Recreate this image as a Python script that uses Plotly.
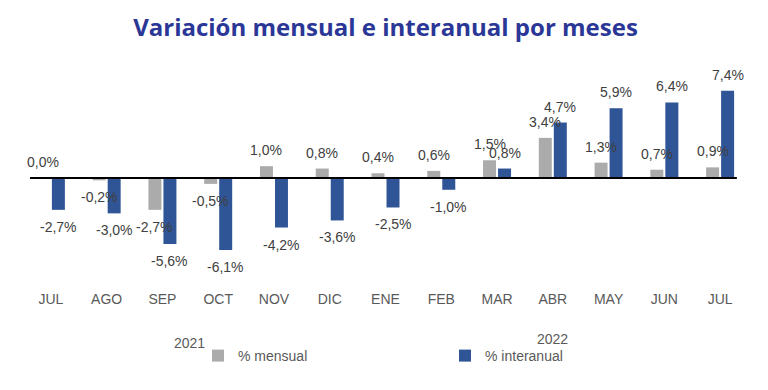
import plotly.graph_objects as go

# ---- data ----
meses = ["JUL", "AGO", "SEP", "OCT", "NOV", "DIC", "ENE", "FEB", "MAR", "ABR", "MAY", "JUN", "JUL"]
mensual = [0.0, -0.2, -2.7, -0.5, 1.0, 0.8, 0.4, 0.6, 1.5, 3.4, 1.3, 0.7, 0.9]
interanual = [-2.7, -3.0, -5.6, -6.1, -4.2, -3.6, -2.5, -1.0, 0.8, 4.7, 5.9, 6.4, 7.4]
anios = ["2021", "2022"]

x = list(range(len(meses)))

GRAY = "#ABABAB"
BLUE = "#2F5597"
LABEL = "#404040"
FONT = "Arial, Liberation Sans, sans-serif"
BARGAP = 0.462
GROUPGAP = 0.134
slot = (1 - BARGAP) / 2
offs = slot / 2

fig = go.Figure()
fig.add_bar(x=x, y=mensual, name="% mensual", marker_color=GRAY, marker_line_width=0)
fig.add_bar(x=x, y=interanual, name="% interanual", marker_color=BLUE, marker_line_width=0)

annotations = []
for series, sh in ((mensual, -offs), (interanual, offs)):
    for i, v in zip(x, series):
        annotations.append(dict(
            x=i + sh, y=v, xref="x", yref="y",
            text=f"{v:.1f}%".replace(".", ","),
            showarrow=False, yanchor="middle",
            yshift=16 if v >= 0 else -17,
            font=dict(family=FONT, size=14, color=LABEL),
        ))

for txt, px, ys in zip(anios, (0.229, 0.731), (0, 4)):
    annotations.append(dict(
        x=px, y=-0.236, xref="paper", yref="paper", text=txt, showarrow=False,
        xanchor="center", yanchor="middle", yshift=ys,
        font=dict(family=FONT, size=14, color="#595959"),
    ))

# figure is sized to fit the window minus the page's 8px body margin
fig.update_layout(
    width=760, height=382,
    margin=dict(l=15, r=20, t=52, b=101, autoexpand=False),
    paper_bgcolor="white", plot_bgcolor="white",
    barmode="group", bargap=BARGAP, bargroupgap=GROUPGAP,
    title=dict(text="<b>Variación mensual e interanual por meses</b>",
               x=0.5, xref="paper", xanchor="center", y=0.949, yanchor="middle",
               font=dict(family="Open Sans, Noto Sans", size=24, color="#2B3797")),
    xaxis=dict(range=[-0.5, 12.5], tickmode="array", tickvals=x, ticktext=meses,
               showgrid=False, zeroline=False, showline=False, ticks="", automargin=False,
               tickfont=dict(family=FONT, size=14, color="#595959")),
    yaxis=dict(range=[-9.41, 10.0], showgrid=False, zeroline=False, automargin=False,
               showticklabels=False, showline=False, ticks=""),
    showlegend=True,
    legend=dict(orientation="h", x=0.2414, xanchor="left", y=-0.2926, yanchor="middle",
                entrywidth=202, entrywidthmode="pixels",
                font=dict(family=FONT, size=14, color="#595959"),
                bgcolor="rgba(0,0,0,0)"),
    annotations=annotations,
    shapes=[dict(type="line", xref="x", yref="y", x0=-0.375, x1=12.30, y0=0, y1=0,
                 line=dict(color="black", width=2), layer="above")],
)

fig.write_html("out.html")
